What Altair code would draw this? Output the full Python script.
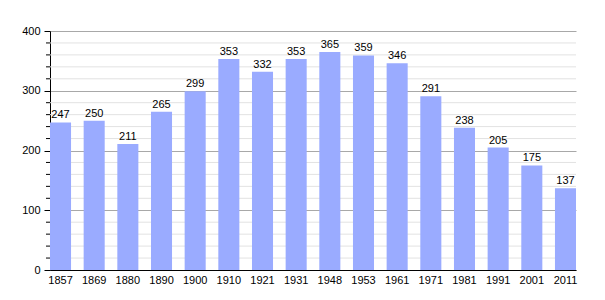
import altair as alt
import pandas as pd

years = ["1857", "1869", "1880", "1890", "1900", "1910", "1921", "1931",
         "1948", "1953", "1961", "1971", "1981", "1991", "2001", "2011"]
population = [247, 250, 211, 265, 299, 353, 332, 353, 365, 359, 346, 291, 238, 205, 175, 137]
major_ticks = [0, 100, 200, 300, 400]
minor_ticks = [v for v in range(20, 400, 20) if v % 100 != 0]

df = pd.DataFrame({"year": years, "pop": population})
minor_df = pd.DataFrame({"v": minor_ticks})

FONT = "Liberation Sans"
yscale = alt.Scale(domain=[0, 400], nice=False)
yaxis = alt.Axis(title=None, values=major_ticks, grid=True, gridColor="#a8a8a8",
                 tickColor="#000000", tickSize=6, domainColor="#000000",
                 labelFont=FONT, labelFontSize=11, labelColor="#000000",
                 labelPadding=4)

minor_grid = alt.Chart(minor_df).mark_rule(color="#e2e2e2", strokeWidth=1).encode(
    y=alt.Y("v:Q", scale=yscale, axis=yaxis),
    x=alt.value(0), x2=alt.value(526),
)
minor_tick = alt.Chart(minor_df).mark_rule(color="#000000", strokeWidth=1).encode(
    y=alt.Y("v:Q", scale=yscale, axis=yaxis),
    x=alt.value(-4), x2=alt.value(0),
)

bars = alt.Chart(df).mark_bar(color="#9aabff").encode(
    x=alt.X("year:N", sort=years,
            scale=alt.Scale(paddingInner=0.375, paddingOuter=0),
            axis=alt.Axis(title=None, labelAngle=0, ticks=False, domainColor="#000000",
                          labelFont=FONT, labelFontSize=11, labelColor="#000000",
                          labelPadding=4)),
    y=alt.Y("pop:Q", scale=yscale, axis=yaxis),
)
labels = alt.Chart(df).mark_text(font=FONT, fontSize=11, color="#000000",
                                 baseline="bottom", dy=-2).encode(
    x=alt.X("year:N", sort=years),
    y=alt.Y("pop:Q", scale=yscale, axis=yaxis),
    text="pop:Q",
)

chart = alt.layer(minor_grid, bars, minor_tick, labels).properties(
    width=526, height=239,
    padding={"left": 50, "top": 31, "right": 29, "bottom": 30},
    autosize="none",
).configure_view(stroke=None).configure_axis(gridOpacity=1)

chart.save("out.html", embed_options={"renderer": "svg", "actions": False})
